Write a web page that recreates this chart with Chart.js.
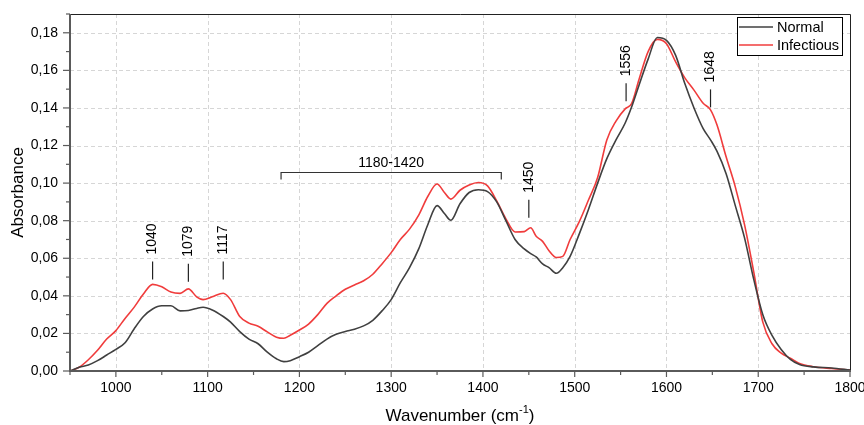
<!DOCTYPE html>
<html>
<head>
<meta charset="utf-8">
<script src="https://cdn.jsdelivr.net/npm/chart.js@4.4.1/dist/chart.umd.min.js"></script>
<style>
  html, body { margin: 0; padding: 0; background: #fff; }
</style>
</head>
<body>
<canvas id="spectrumChart" width="864" height="425"></canvas>
<script>
// Spectrum data
const wavenumbers = [950, 960, 970, 980, 990, 1000, 1010, 1020, 1030, 1040, 1050, 1060, 1070,
    1079, 1088, 1095, 1105, 1117, 1125, 1135, 1145, 1155, 1165, 1175, 1183, 1190,
    1200, 1210, 1220, 1230, 1240, 1250, 1260, 1270, 1280, 1290, 1300, 1310, 1320, 1330, 1340, 1350,
    1358, 1365, 1375, 1385, 1395, 1405, 1415, 1425, 1435, 1445,
    1452, 1458, 1465, 1472, 1480, 1487, 1495,
    1505, 1515, 1525, 1535, 1545, 1555,
    1562, 1570, 1580, 1590, 1600, 1610, 1620, 1630, 1640,
    1648, 1655, 1665, 1675, 1685, 1695, 1705, 1715, 1725, 1735, 1745,
    1760, 1780, 1800];

const normal = [0.000, 0.002, 0.0032, 0.0055, 0.0085, 0.0115, 0.015, 0.0225, 0.029, 0.033, 0.0347, 0.0347, 0.032,
    0.0322, 0.0333, 0.0339, 0.0325, 0.029, 0.026, 0.021, 0.017, 0.0145, 0.010, 0.0065, 0.0050, 0.0055,
    0.0076, 0.010, 0.0135, 0.017, 0.0195, 0.021, 0.0222, 0.024, 0.027, 0.032, 0.038, 0.047, 0.055, 0.065, 0.078, 0.088,
    0.0838, 0.0802, 0.089, 0.095, 0.0965, 0.0955, 0.090, 0.080, 0.070, 0.065,
    0.0625, 0.0607, 0.057, 0.055, 0.052, 0.055, 0.061,
    0.073, 0.086, 0.100, 0.113, 0.123, 0.132,
    0.1405, 0.152, 0.166, 0.1775, 0.176, 0.168, 0.153, 0.140, 0.129,
    0.123, 0.117, 0.105, 0.088, 0.071, 0.049, 0.030, 0.019, 0.0115, 0.0062, 0.0035,
    0.0022, 0.0016, 0.0005];

const infectious = [0.000, 0.002, 0.006, 0.011, 0.017, 0.0215, 0.028, 0.034, 0.041, 0.0461, 0.0448, 0.0420, 0.0413,
    0.0437, 0.0395, 0.038, 0.0395, 0.0414, 0.038, 0.029, 0.0255, 0.0238, 0.0208, 0.018, 0.0174, 0.019,
    0.0218, 0.025, 0.030, 0.036, 0.040, 0.0435, 0.0458, 0.048, 0.0515, 0.057, 0.063, 0.070, 0.0755, 0.083, 0.093, 0.0995,
    0.095, 0.0915, 0.0962, 0.099, 0.1003, 0.0985, 0.0905, 0.081, 0.074, 0.0742,
    0.0762, 0.0717, 0.069, 0.064, 0.0604, 0.061, 0.070,
    0.0795, 0.091, 0.103, 0.123, 0.133, 0.1395,
    0.1423, 0.155, 0.170, 0.1765, 0.1742, 0.1645, 0.156, 0.1495, 0.1425,
    0.139, 0.131, 0.114, 0.098, 0.078, 0.053, 0.026, 0.0145, 0.0095, 0.0068, 0.004,
    0.0023, 0.0013, 0.0005];

const xTicks = [1000, 1100, 1200, 1300, 1400, 1500, 1600, 1700, 1800];
const yTicks = [0, 0.02, 0.04, 0.06, 0.08, 0.10, 0.12, 0.14, 0.16, 0.18];

// Peak markers
const peakLabels = ['1040', '1079', '1117', '1450', '1556', '1648'];
const peakPositions = [1040, 1079, 1117, 1450, 1556, 1648];
const peakHeights = [0.0487, 0.0475, 0.0487, 0.0815, 0.1435, 0.1403];
const bandRange = [1180, 1420];
const bandLabel = '1180-1420';
const bandHeight = 0.1059;

const FONT = "'Liberation Sans', Arial, Helvetica, sans-serif";
const NORMAL_COLOR = '#404040';
const INFECT_COLOR = '#f03c3c';

function fmt(v) {
    return v.toFixed(2).replace('.', ',');
}

const decorPlugin = {
    id: 'decor',
    beforeDatasetsDraw(chart) {
        const ctx = chart.ctx;
        const xs = chart.scales.x, ys = chart.scales.y;
        const a = chart.chartArea;
        ctx.save();
        ctx.strokeStyle = '#d6d6d6';
        ctx.lineWidth = 1;
        ctx.setLineDash([4, 3]);
        xTicks.forEach(v => {
            if (v >= 1800) return;
            const px = Math.round(xs.getPixelForValue(v)) + 0.5;
            ctx.beginPath(); ctx.moveTo(px, a.top); ctx.lineTo(px, a.bottom); ctx.stroke();
        });
        yTicks.forEach(v => {
            if (v === 0) return;
            const py = Math.round(ys.getPixelForValue(v)) + 0.5;
            ctx.beginPath(); ctx.moveTo(a.left, py); ctx.lineTo(a.right, py); ctx.stroke();
        });
        ctx.restore();
    },
    afterDatasetsDraw(chart) {
        const ctx = chart.ctx;
        const xs = chart.scales.x, ys = chart.scales.y;
        const a = chart.chartArea;
        ctx.save();

        // frame
        ctx.strokeStyle = '#222';
        ctx.lineWidth = 1;
        ctx.beginPath();
        ctx.moveTo(a.left, a.top + 0.5); ctx.lineTo(a.right + 0.5, a.top + 0.5); ctx.lineTo(a.right + 0.5, a.bottom);
        ctx.stroke();
        ctx.strokeStyle = '#5a5a5a';
        ctx.lineWidth = 2;
        ctx.beginPath();
        ctx.moveTo(a.left, a.top); ctx.lineTo(a.left, a.bottom); ctx.lineTo(a.right + 1, a.bottom);
        ctx.stroke();

        // ticks
        ctx.lineWidth = 1.2;
        xTicks.forEach(v => {
            const px = xs.getPixelForValue(v);
            ctx.beginPath(); ctx.moveTo(px, a.bottom); ctx.lineTo(px, a.bottom + 6); ctx.stroke();
            const mx = xs.getPixelForValue(v - 50);
            ctx.beginPath(); ctx.moveTo(mx, a.bottom); ctx.lineTo(mx, a.bottom + 4); ctx.stroke();
        });
        yTicks.forEach(v => {
            const py = ys.getPixelForValue(v);
            ctx.beginPath(); ctx.moveTo(a.left, py); ctx.lineTo(a.left - 7, py); ctx.stroke();
            const my = ys.getPixelForValue(v + 0.01);
            ctx.beginPath(); ctx.moveTo(a.left, my); ctx.lineTo(a.left - 4, my); ctx.stroke();
        });

        // peak labels
        ctx.strokeStyle = '#222';
        ctx.fillStyle = '#000';
        ctx.lineWidth = 1.2;
        ctx.font = '14px ' + FONT;
        peakLabels.forEach((label, i) => {
            const px = xs.getPixelForValue(peakPositions[i]);
            const py = ys.getPixelForValue(peakHeights[i]);
            ctx.beginPath(); ctx.moveTo(px, py); ctx.lineTo(px, py - 18); ctx.stroke();
            ctx.save();
            ctx.translate(px, py - 25);
            ctx.rotate(-Math.PI / 2);
            ctx.textAlign = 'left';
            ctx.textBaseline = 'middle';
            ctx.fillText(label, 0, 0);
            ctx.restore();
        });

        // band bracket
        const bx1 = xs.getPixelForValue(bandRange[0]);
        const bx2 = xs.getPixelForValue(bandRange[1]);
        const by = Math.round(ys.getPixelForValue(bandHeight)) + 0.5;
        ctx.strokeStyle = '#333';
        ctx.beginPath();
        ctx.moveTo(bx1, by + 7); ctx.lineTo(bx1, by); ctx.lineTo(bx2, by); ctx.lineTo(bx2, by + 7);
        ctx.stroke();
        ctx.textAlign = 'center';
        ctx.textBaseline = 'middle';
        ctx.fillText(bandLabel, (bx1 + bx2) / 2, by - 9);

        // legend
        ctx.fillStyle = '#fff';
        ctx.fillRect(737, 17, 106, 39);
        ctx.strokeStyle = '#000';
        ctx.lineWidth = 1;
        ctx.strokeRect(737.5, 17.5, 105, 38);
        ctx.font = '14.5px ' + FONT;
        ctx.textAlign = 'left';
        ctx.textBaseline = 'middle';
        [['Normal', NORMAL_COLOR, 27], ['Infectious', INFECT_COLOR, 45]].forEach(([name, color, ly]) => {
            ctx.strokeStyle = color;
            ctx.lineWidth = 1.5;
            ctx.beginPath(); ctx.moveTo(739, ly); ctx.lineTo(773, ly); ctx.stroke();
            ctx.fillStyle = '#000';
            ctx.fillText(name, 777, ly + 1);
        });

        // axis titles
        ctx.fillStyle = '#000';
        ctx.font = '17px ' + FONT;
        ctx.save();
        ctx.translate(18, (a.top + a.bottom) / 2);
        ctx.rotate(-Math.PI / 2);
        ctx.textAlign = 'center';
        ctx.textBaseline = 'middle';
        ctx.fillText('Absorbance', 0, 0);
        ctx.restore();

        const t1 = 'Wavenumber (cm', sup = '-1', t2 = ')';
        ctx.font = '17px ' + FONT;
        const w1 = ctx.measureText(t1).width, w3 = ctx.measureText(t2).width;
        ctx.font = '11px ' + FONT;
        const w2 = ctx.measureText(sup).width;
        let tx = (a.left + a.right) / 2 - (w1 + w2 + w3) / 2;
        const ty = 416;
        ctx.textAlign = 'left';
        ctx.textBaseline = 'middle';
        ctx.font = '17px ' + FONT;
        ctx.fillText(t1, tx, ty);
        tx += w1;
        ctx.font = '11px ' + FONT;
        ctx.fillText(sup, tx, ty - 6);
        tx += w2;
        ctx.font = '17px ' + FONT;
        ctx.fillText(t2, tx, ty);

        ctx.restore();
    }
};

const ctx = document.getElementById('spectrumChart').getContext('2d');
const spectrumChart = new Chart(ctx, {
    type: 'line',
    data: {
        datasets: [{
            label: 'Normal',
            data: wavenumbers.map((w, i) => ({ x: w, y: normal[i] })),
            borderColor: NORMAL_COLOR,
            borderWidth: 1.6
        }, {
            label: 'Infectious',
            data: wavenumbers.map((w, i) => ({ x: w, y: infectious[i] })),
            borderColor: INFECT_COLOR,
            borderWidth: 1.6
        }]
    },
    options: {
        responsive: false,
        animation: false,
        devicePixelRatio: 1,
        layout: { padding: { top: 14, right: 14, left: 0, bottom: 0 } },
        elements: {
            point: { radius: 0 },
            line: { cubicInterpolationMode: 'monotone', fill: false }
        },
        plugins: {
            legend: { display: false },
            tooltip: { enabled: false }
        },
        scales: {
            x: {
                type: 'linear',
                min: 950,
                max: 1800,
                afterFit: s => { s.height = 54; s.paddingLeft = 0; s.paddingRight = 0; },
                afterBuildTicks: s => { s.ticks = xTicks.map(v => ({ value: v })); },
                grid: { display: false, drawTicks: false },
                border: { display: false },
                ticks: {
                    color: '#000',
                    font: { family: FONT, size: 14 },
                    padding: 9,
                    maxRotation: 0,
                    autoSkip: false,
                    callback: v => String(v)
                }
            },
            y: {
                min: 0,
                max: 0.19,
                afterFit: s => { s.width = 70; s.paddingTop = 0; s.paddingBottom = 0; },
                afterBuildTicks: s => { s.ticks = yTicks.map(v => ({ value: v })); },
                grid: { display: false, drawTicks: false },
                border: { display: false },
                ticks: {
                    color: '#000',
                    font: { family: FONT, size: 14 },
                    padding: 12,
                    callback: v => fmt(v)
                }
            }
        }
    },
    plugins: [decorPlugin]
});
</script>
</body>
</html>
